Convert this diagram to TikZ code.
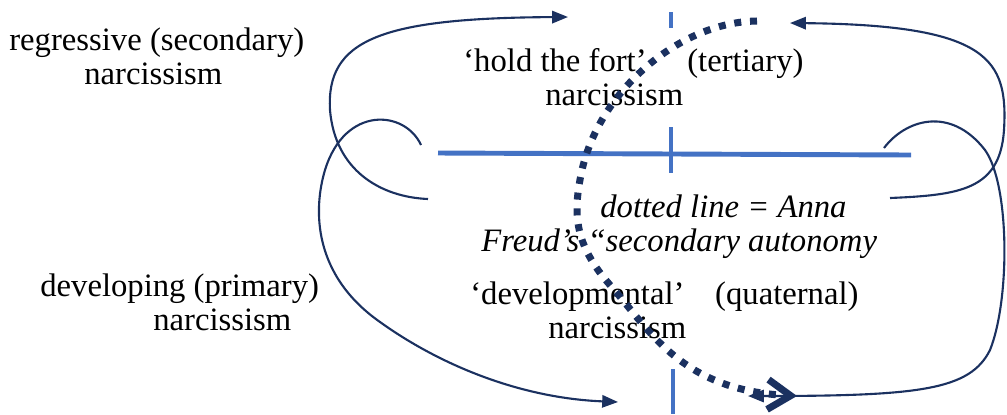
\documentclass[tikz,border=0pt]{standalone}
\usepackage{fontspec}
\setmainfont{Liberation Serif}
\usepackage{xcolor}
\usetikzlibrary{arrows.meta}

\definecolor{navy}{HTML}{1B3160}
\definecolor{axisblue}{HTML}{4472C4}

\begin{document}
\begin{tikzpicture}[x=0.02cm, y=-0.02cm,
    lbl/.style={inner sep=0pt, anchor=base west, align=left, font=\fontsize{18.6}{19.3}\selectfont},
    axis/.style={axisblue, line width=2.8pt},
    navyline/.style={navy, line width=1.2pt, -{Triangle[length=9pt,width=7pt]}},
    autonomy/.style={navy, line width=4pt, dash pattern=on 4pt off 5pt, -{Straight Barb[length=13pt,width=17pt]}}]
    \useasboundingbox (0,0) rectangle (1007,414);

    % the two axes
    \draw[axis] (438,153) -- (911,155);
    \draw[axis] (671,12) -- (671,28);
    \draw[axis] (671,127) -- (671,173);
    \draw[axis] (673,369) -- (673,414);

    % labels (placed at the baseline of their last line)
    \node[lbl] (regr) at (9,84) {regressive (secondary)\\\hspace*{1.5cm}narcissism};
    \node[lbl] (devel) at (40,330) {developing (primary)\\\hspace*{2.26cm}narcissism};
    \node[lbl] (fort) at (463,105) {‘hold the fort’\hspace{0.65cm} (tertiary)\\\hspace*{1.64cm}narcissism};
    \node[lbl, font=\fontsize{18.6}{19.3}\selectfont\itshape] (note) at (481,251) {\hspace*{2.38cm}dotted line = Anna\\Freud’s “secondary autonomy};
    \node[lbl] (devmt) at (470,338) {‘developmental’\hspace{0.45cm} (quaternal)\\\hspace*{1.56cm}narcissism};

    % ends of the loops
    \coordinate (regr-in) at (428,199);
    \coordinate (regr-out) at (568,17);
    \coordinate (devel-in) at (421,145);
    \coordinate (devel-out) at (618,402);
    \coordinate (fort-in) at (890,198);
    \coordinate (fort-out) at (790,23);
    \coordinate (devmt-in) at (884,148);
    \coordinate (devmt-out) at (748,396);
    \coordinate (auto-in) at (757,21);
    \coordinate (auto-out) at (797,396);

    % left loops
    \draw[navyline] (regr-in) .. controls (380,197) and (335,170) .. (330,110)
        .. controls (326,40) and (380,18) .. (regr-out);
    \draw[navyline] (devel-in) .. controls (405,110) and (345,105) .. (325,170)
        .. controls (313,210) and (313,275) .. (380,322)
        .. controls (440,365) and (520,398) .. (devel-out);

    % right loops
    \draw[navyline] (fort-in) .. controls (960,195) and (1000,190) .. (1004,130)
        .. controls (1008,60) and (990,25) .. (fort-out);
    \draw[navyline] (devmt-in) .. controls (905,120) and (950,105) .. (985,150)
        .. controls (1010,185) and (1010,300) .. (990,350)
        .. controls (970,390) and (920,396) .. (devmt-out);

    % secondary autonomy
    \draw[autonomy] (auto-in) .. controls (680,22) and (600,90) .. (582,170)
        .. controls (572,215) and (575,245) .. (610,285)
        .. controls (650,330) and (680,390) .. (auto-out);
\end{tikzpicture}
\end{document}
